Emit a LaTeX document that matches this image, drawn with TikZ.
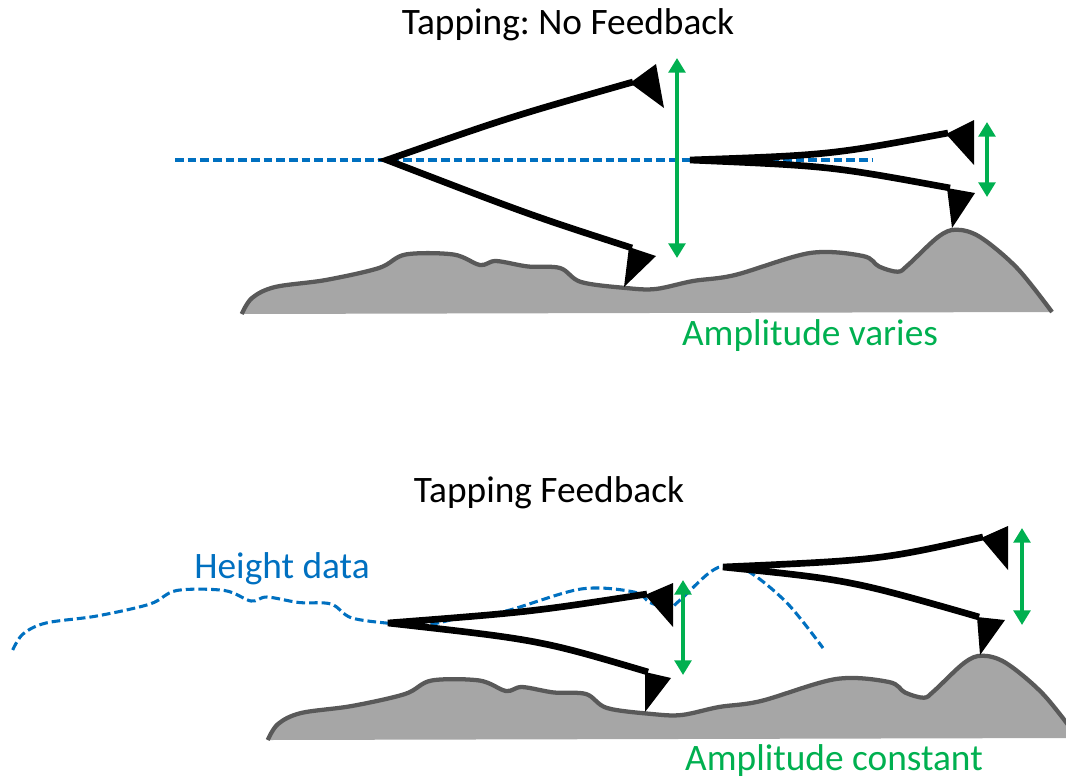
\documentclass[tikz,border=0pt]{standalone}
\usepackage{fontspec}
\setmainfont{Carlito}
\usetikzlibrary{arrows.meta}

\definecolor{scanblue}{HTML}{0070C0}
\definecolor{ampgreen}{HTML}{00B050}
\definecolor{rockfill}{HTML}{A6A6A6}
\definecolor{rockedge}{HTML}{595959}

% surface profile, drawn for the upper sample; the other uses are shifted copies
\def\terrain{plot[smooth,tension=0.55] coordinates {
  (241.7,314) (252,298) (275,287) (325.8,280) (379,268) (405.6,254.5)
  (453.5,254.5) (480,265) (496,261) (528,266.5) (560,268) (581,282)
  (626,288) (655.6,289) (693,281) (735,275) (810,253) (863,256)
  (879,266.5) (897.7,271.7) (908,265) (938,237) (956,229.7) (980,237)
  (1017,268) (1052,312)}}

\tikzset{
  rock/.style={fill=rockfill},
  rockline/.style={draw=rockedge, line width=3.2pt, line join=round},
  scanline/.style={draw=scanblue, line width=2.3pt, dash pattern=on 6.5pt off 3pt},
  arm/.style={draw=black, line width=5pt, line join=miter, miter limit=4},
  tiptri/.style={fill=black},
  amp/.style={draw=ampgreen, line width=2.8pt,
    {Triangle[length=11pt,width=12.5pt]}-{Triangle[length=11pt,width=12.5pt]}},
  label/.style={font=\fontsize{28}{34}\selectfont, inner sep=0pt},
}

\begin{document}
\frenchspacing
\begin{tikzpicture}[x=0.75pt, y=-0.75pt]
\useasboundingbox (0,0) rectangle (1066,782);
\begin{scope}
\clip (0,0) rectangle (1066,782);

% ---------- samples ----------
\fill[rock] \terrain -- cycle;
\draw[rockline] \terrain;
\begin{scope}[shift={(26,426)}]
  \fill[rock] \terrain -- cycle;
  \draw[rockline] \terrain;
\end{scope}

% ---------- reference lines ----------
\coordinate (refL) at (175,160);
\coordinate (refR) at (873,160);
\draw[scanline] (refL) -- (refR);
\begin{scope}[shift={(-229,336)}]
  \draw[scanline] \terrain;
\end{scope}

% ---------- upper panel: free oscillation ----------
% left cantilever
\coordinate (v1) at (387,160);
\draw[arm] (633,82) .. controls (510,117) .. (v1) .. controls (530,215) .. (632,248);
\fill[tiptri] (630,83) -- (656,64) -- (664,108) -- cycle;
\fill[tiptri] (629,247) -- (656,256) -- (624,287) -- cycle;
% right cantilever
\coordinate (v2) at (690,160);
\draw[arm] (948,133) .. controls (830,155) .. (v2) .. controls (830,166) .. (950,188);
\fill[tiptri] (946,134) -- (974,120) -- (974,165) -- cycle;
\fill[tiptri] (947,188) -- (975,193) -- (952,228) -- cycle;
% amplitudes
\coordinate (a1t) at (677,58);  \coordinate (a1b) at (677,258);
\coordinate (a2t) at (987,122); \coordinate (a2b) at (987,197);
\draw[amp] (a1t) -- (a1b);
\draw[amp] (a2t) -- (a2b);

% ---------- lower panel: with feedback ----------
\coordinate (v3) at (388,623);
\draw[arm] (647,594) .. controls (530,612) .. (v3) .. controls (540,640) .. (648,672);
\fill[tiptri] (645,595) -- (673,583) -- (673,627) -- cycle;
\fill[tiptri] (645,672) -- (671,678) -- (645,712) -- cycle;
\coordinate (v4) at (723,567);
\draw[arm] (983,537) .. controls (880,560) .. (v4) .. controls (850,580) .. (979,617);
\fill[tiptri] (981,538) -- (1008,526) -- (1008,570) -- cycle;
\fill[tiptri] (977,617) -- (1005,620) -- (980,655) -- cycle;
\coordinate (a3t) at (683,580);  \coordinate (a3b) at (683,675);
\coordinate (a4t) at (1022,528); \coordinate (a4b) at (1022,625);
\draw[amp] (a3t) -- (a3b);
\draw[amp] (a4t) -- (a4b);
\end{scope}

% ---------- labels ----------
\node[label] (title1) at (568,25) {Tapping: No Feedback};
\node[label, text=ampgreen] (ampvar) at (810,336) {Amplitude varies};
\node[label] (title2) at (549,493) {Tapping Feedback};
\node[label, text=scanblue] (hdata) at (282,569) {Height data};
\node[label, text=ampgreen] (ampconst) at (834,761) {Amplitude constant};
\end{tikzpicture}
\end{document}
